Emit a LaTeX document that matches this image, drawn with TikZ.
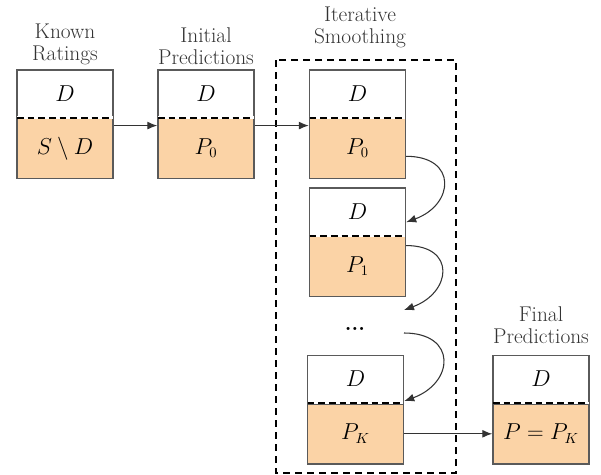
\documentclass[tikz,border=0pt]{standalone}
\usetikzlibrary{positioning,arrows.meta}
\definecolor{cellfill}{HTML}{FBD3A6}
\definecolor{cellline}{HTML}{5A5A5A}
\begin{document}
\begin{tikzpicture}
[
    x=0.75pt, y=-0.75pt,
    >={Latex[length=7.5pt,width=6pt]},
    upper/.style={draw=cellline, line width=1.1pt, minimum width=72pt, minimum height=35pt, inner sep=0pt, font=\fontsize{16}{18}\selectfont},
    lower/.style={upper, fill=cellfill, minimum height=45pt},
    split/.style={line width=1.4pt, dash pattern=on 5pt off 3pt},
    caption/.style={align=center, text=black!80, font=\fontsize{16}{16.5}\selectfont},
    flow/.style={->, line width=0.8pt, draw=black!80}
]
    \useasboundingbox (0,0) rectangle (601,475);

    % known ratings
    \node [upper] (kr-up) at (65,93.5) {$D$};
    \node [lower, below=0pt of kr-up] (kr-lo) {$S\setminus D$};
    \node [caption, above=0pt of kr-up] (kr-cap) {Known\\Ratings};

    % initial predictions
    \node [upper] (ip-up) at (206,93.5) {$D$};
    \node [lower, below=0pt of ip-up] (ip-lo) {$P_0$};
    \node [caption, above=0pt of ip-up] (ip-cap) {Initial\\Predictions};

    % iterative smoothing
    \draw [split, line width=1.6pt, dash pattern=on 5pt off 4pt] (276,60) rectangle (456,473);
    \node [caption] (it-cap) at (360,27) {Iterative\\Smoothing};
    \node [upper] (it0-up) at (357.5,93.5) {$D$};
    \node [lower, below=0pt of it0-up] (it0-lo) {$P_0$};
    \node [upper] (it1-up) at (357.5,211.5) {$D$};
    \node [lower, below=0pt of it1-up] (it1-lo) {$P_1$};
    \node [font=\fontsize{16}{18}\selectfont\bfseries] (dots) at (355,329) {...};
    \coordinate (dots-in) at (404,310);
    \coordinate (dots-out) at (404,333);
    \node [upper] (itK-up) at (355.5,379) {$D$};
    \node [lower, below=0pt of itK-up] (itK-lo) {$P_K$};

    % final predictions
    \node [upper] (fin-up) at (541,379) {$D$};
    \node [lower, below=0pt of fin-up] (fin-lo) {$P=P_K$};
    \node [caption, above=5pt of fin-up] (fin-cap) {Final\\Predictions};

    % dashed splits
    \foreach \b in {kr,ip,it0,it1,itK,fin} {
        \draw [white, line width=2pt] ([xshift=0.6pt]\b-up.south west) -- ([xshift=-0.6pt]\b-up.south east);
        \draw [split] ([xshift=0.6pt]\b-up.south west) -- ([xshift=-0.6pt]\b-up.south east);
    }

    % connectors
    \draw [flow] ([yshift=-6pt]kr-lo.north east) -- ([yshift=-6pt]ip-lo.north west);
    \draw [flow] ([yshift=-6pt]ip-lo.north east) -- ([yshift=-6pt]it0-lo.north west);
    \draw [flow] ([yshift=-6pt]it0-lo.east) to[out=0, in=20, looseness=2] ([yshift=-8pt]it1-up.east);
    \draw [flow] ([yshift=-7.5pt]it1-lo.north east) to[out=0, in=20, looseness=2] (dots-in);
    \draw [flow] (dots-out) to[out=0, in=20, looseness=2] ([yshift=1.5pt]itK-up.south east);
    \draw [flow] (itK-lo.east) -- (itK-lo.east -| fin-lo.west);
\end{tikzpicture}
\end{document}
